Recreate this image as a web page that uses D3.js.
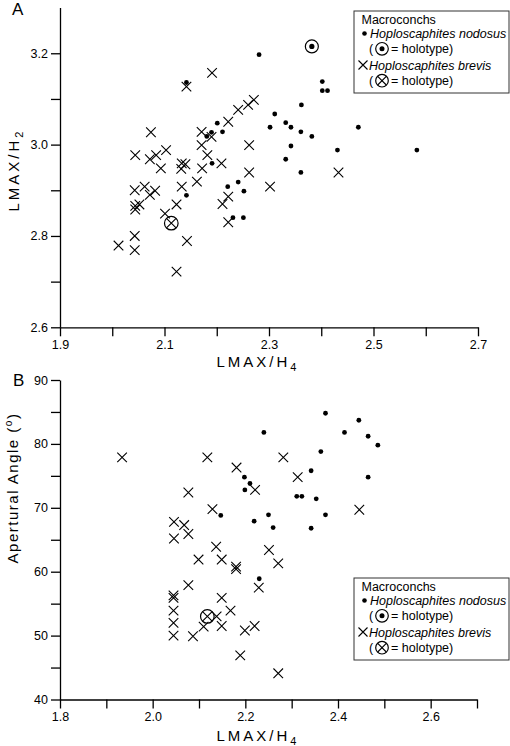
<!DOCTYPE html>
<html>
<head>
<meta charset="utf-8">
<script src="https://cdn.jsdelivr.net/npm/d3@7"></script>
<style>
  html, body { margin: 0; padding: 0; background: #fff; }
  svg { display: block; }
  text { font-family: "Liberation Sans", Arial, Helvetica, sans-serif; fill: #000; }
</style>
</head>
<body>
<svg id="chart" width="510" height="746"></svg>
<script>
// ---------- DATA ----------
// Panel A: LMAX/H4 (x) vs LMAX/H2 (y)
const aNodosus = [
  [2.142,3.136],[2.201,3.047],[2.190,3.027],[2.181,3.018],[2.211,3.028],
  [2.191,2.959],[2.142,2.889],[2.221,2.908],[2.241,2.918],[2.252,2.898],
  [2.231,2.840],[2.251,2.840],[2.281,3.197],[2.402,3.138],[2.402,3.118],
  [2.412,3.118],[2.362,3.087],[2.311,3.067],[2.302,3.038],[2.332,3.048],
  [2.342,3.038],[2.361,3.028],[2.382,3.018],[2.471,3.038],[2.342,2.997],
  [2.431,2.988],[2.583,2.988],[2.332,2.968],[2.361,2.939]
];
const aNodosusHolotype = [[2.382,3.215]];
const aBrevis = [
  [2.191,3.157],[2.142,3.127],[2.074,3.027],[2.171,3.028],[2.190,3.017],
  [2.171,2.999],[2.103,2.988],[2.044,2.977],[2.084,2.977],[2.072,2.968],
  [2.182,2.977],[2.093,2.948],[2.133,2.959],[2.140,2.957],[2.132,2.947],
  [2.209,2.959],[2.172,2.948],[2.162,2.919],[2.133,2.908],[2.043,2.900],
  [2.062,2.908],[2.072,2.890],[2.082,2.899],[2.044,2.866],[2.044,2.858],
  [2.052,2.869],[2.123,2.869],[2.101,2.849],[2.211,2.870],[2.222,2.886],
  [2.222,2.830],[2.043,2.800],[2.012,2.779],[2.043,2.769],[2.143,2.789],
  [2.123,2.722],[2.222,3.050],[2.241,3.076],[2.260,3.087],[2.271,3.098],
  [2.262,2.999],[2.262,2.939],[2.302,2.908],[2.433,2.939]
];
const aBrevisHolotype = [[2.113,2.828]];

// Panel B: LMAX/H4 (x) vs apertural angle (y)
const bNodosus = [
  [2.373,84.8],[2.445,83.7],[2.240,81.8],[2.414,81.8],[2.465,81.2],
  [2.486,79.8],[2.363,78.8],[2.342,75.8],[2.465,74.8],[2.198,74.8],
  [2.210,73.8],[2.199,72.8],[2.311,71.8],[2.322,71.8],[2.353,71.4],
  [2.373,68.9],[2.147,68.8],[2.250,68.9],[2.219,67.9],[2.260,66.9],
  [2.342,66.8],[2.230,58.9]
];
const bBrevis = [
  [1.934,77.9],[2.118,77.9],[2.282,77.9],[2.181,76.3],[2.221,72.8],
  [2.313,74.8],[2.129,69.8],[2.077,72.4],[2.046,67.8],[2.068,67.3],
  [2.046,65.2],[2.077,65.9],[2.137,63.9],[2.099,61.9],[2.149,61.9],
  [2.180,60.8],[2.180,60.4],[2.251,63.4],[2.271,61.3],[2.229,57.5],
  [2.077,57.9],[2.045,56.3],[2.045,55.9],[2.149,55.9],[2.045,53.9],
  [2.168,53.9],[2.138,53.0],[2.045,52.0],[2.149,51.5],[2.110,51.4],
  [2.045,50.0],[2.087,49.9],[2.199,50.8],[2.220,51.5],[2.189,46.9],
  [2.271,44.1],[2.446,69.7]
];
const bBrevisHolotype = [[2.118,53.0]];

// Axis ticks
const aXMajor = [1.9, 2.1, 2.3, 2.5, 2.7];
const aXMinor = [2.0, 2.2, 2.4, 2.6];
const aYMajor = [2.6, 2.8, 3.0, 3.2];
const aYMinor = [2.7, 2.9, 3.1];
const bXMajor = [1.8, 2.0, 2.2, 2.4, 2.6];
const bXMinor = [1.9, 2.1, 2.3, 2.5, 2.7];
const bYMajor = [40, 50, 60, 70, 80, 90];
const bYMinor = [45, 55, 65, 75, 85];

const legendTitle = "Macroconchs";
const legendNodosus = "Hoploscaphites nodosus";
const legendBrevis = "Hoploscaphites brevis";

// ---------- DRAWING ----------
const svg = d3.select("#chart");

function crossPath(s) { return `M${-s},${-s}L${s},${s}M${-s},${s}L${s},${-s}`; }

function drawPanel(cfg) {
  const g = svg.append("g");
  const x = d3.scaleLinear().domain(cfg.xDomain).range(cfg.xRange);
  const y = d3.scaleLinear().domain(cfg.yDomain).range(cfg.yRange);

  // axes
  const xAxisY = cfg.yRange[0];
  const gx = g.append("g").attr("transform", `translate(0,${xAxisY})`)
    .call(d3.axisBottom(x).tickValues(cfg.xMajor).tickFormat(d3.format(".1f"))
      .tickSize(9).tickSizeOuter(0).tickPadding(4));
  g.append("g").attr("transform", `translate(0,${xAxisY})`)
    .call(d3.axisBottom(x).tickValues(cfg.xMinor).tickFormat("").tickSize(9).tickSizeOuter(0))
    .select(".domain").remove();
  const gy = g.append("g").attr("transform", `translate(${cfg.xRange[0]},0)`)
    .call(d3.axisLeft(y).tickValues(cfg.yMajor).tickFormat(cfg.yFormat)
      .tickSize(9).tickSizeOuter(0).tickPadding(3));
  g.append("g").attr("transform", `translate(${cfg.xRange[0]},0)`)
    .call(d3.axisLeft(y).tickValues(cfg.yMinor).tickFormat("").tickSize(9).tickSizeOuter(0))
    .select(".domain").remove();
  g.selectAll(".domain, .tick line").attr("stroke", "#000").attr("stroke-width", 1.3);
  g.selectAll(".tick text").attr("font-size", 12.5)
    .attr("font-family", '"Liberation Sans", Arial, sans-serif').attr("fill", "#000");

  // nodosus dots
  g.append("g").selectAll("circle").data(cfg.nodosus).join("circle")
    .attr("cx", d => x(d[0])).attr("cy", d => y(d[1])).attr("r", 2.4).attr("fill", "#000");
  // brevis crosses
  g.append("g").selectAll("path").data(cfg.brevis).join("path")
    .attr("transform", d => `translate(${x(d[0])},${y(d[1])})`)
    .attr("d", crossPath(4.8)).attr("stroke", "#000").attr("stroke-width", 1.1).attr("fill", "none");
  // holotypes
  (cfg.nodosusHolo || []).forEach(d => {
    const hg = g.append("g").attr("transform", `translate(${x(d[0])},${y(d[1])})`);
    hg.append("circle").attr("r", 6.5).attr("fill", "none").attr("stroke", "#000").attr("stroke-width", 1.2);
    hg.append("circle").attr("r", 2.6).attr("fill", "#000");
  });
  (cfg.brevisHolo || []).forEach(d => {
    const hg = g.append("g").attr("transform", `translate(${x(d[0])},${y(d[1])})`);
    hg.append("circle").attr("r", 6.8).attr("fill", "none").attr("stroke", "#000").attr("stroke-width", 1.2);
    hg.append("path").attr("d", crossPath(4.8)).attr("stroke", "#000").attr("stroke-width", 1.1);
  });

  // panel letter
  g.append("text").attr("x", cfg.letterPos[0]).attr("y", cfg.letterPos[1])
    .attr("font-size", 17).text(cfg.letter);

  // x title
  const xt = g.append("text").attr("x", cfg.xTitlePos[0]).attr("y", cfg.xTitlePos[1])
    .attr("text-anchor", "middle").attr("font-size", 15).attr("letter-spacing", 3);
  xt.append("tspan").text("LMAX/H");
  xt.append("tspan").attr("font-size", 11).attr("dy", 4).text("4");

  // y title
  const yt = g.append("text")
    .attr("transform", `translate(${cfg.yTitlePos[0]},${cfg.yTitlePos[1]}) rotate(-90)`)
    .attr("text-anchor", "middle").attr("font-size", 15).attr("letter-spacing", cfg.yTitleSpacing);
  cfg.yTitle(yt);

  // legend
  const L = cfg.legend;
  const lg = g.append("g").attr("transform", `translate(${L[0]},${L[1]})`);
  lg.append("rect").attr("x", 0).attr("y", 0).attr("width", 155).attr("height", 82)
    .attr("fill", "#fff").attr("stroke", "#333").attr("stroke-width", 1);
  const fs = 12.5;
  lg.append("text").attr("x", 7.5).attr("y", 12.7).attr("font-size", fs).text(legendTitle);
  lg.append("circle").attr("cx", 10.5).attr("cy", 22.5).attr("r", 2.3).attr("fill", "#000");
  lg.append("text").attr("x", 16).attr("y", 26.8).attr("font-size", fs).attr("font-style", "italic").text(legendNodosus);
  lg.append("text").attr("x", 15).attr("y", 42.2).attr("font-size", fs).text("(");
  lg.append("circle").attr("cx", 28).attr("cy", 37.8).attr("r", 6.3).attr("fill", "none").attr("stroke", "#000").attr("stroke-width", 1.2);
  lg.append("circle").attr("cx", 28).attr("cy", 37.8).attr("r", 2.5).attr("fill", "#000");
  lg.append("text").attr("x", 37).attr("y", 42.2).attr("font-size", fs).text("= holotype)");
  lg.append("path").attr("transform", "translate(9,54)").attr("d", crossPath(4.5))
    .attr("stroke", "#000").attr("stroke-width", 1.1);
  lg.append("text").attr("x", 15).attr("y", 58.5).attr("font-size", fs).attr("font-style", "italic").text(legendBrevis);
  lg.append("text").attr("x", 15).attr("y", 74).attr("font-size", fs).text("(");
  lg.append("circle").attr("cx", 28).attr("cy", 69.7).attr("r", 6.3).attr("fill", "none").attr("stroke", "#000").attr("stroke-width", 1.2);
  lg.append("path").attr("transform", "translate(28,69.7)").attr("d", crossPath(4.3))
    .attr("stroke", "#000").attr("stroke-width", 1.1);
  lg.append("text").attr("x", 37).attr("y", 74).attr("font-size", fs).text("= holotype)");
}

drawPanel({
  xDomain: [1.9, 2.7], xRange: [60, 478],
  yDomain: [2.6, 3.3], yRange: [327.3, 7.6],
  xMajor: aXMajor, xMinor: aXMinor, yMajor: aYMajor, yMinor: aYMinor,
  yFormat: d3.format(".1f"),
  nodosus: aNodosus, brevis: aBrevis,
  nodosusHolo: aNodosusHolotype, brevisHolo: aBrevisHolotype,
  letter: "A", letterPos: [12, 15],
  xTitlePos: [258, 367],
  yTitlePos: [19, 170], yTitleSpacing: 3,
  yTitle: t => { t.append("tspan").text("LMAX/H"); t.append("tspan").attr("font-size", 11).attr("dy", 4).text("2"); },
  legend: [354, 11]
});

drawPanel({
  xDomain: [1.8, 2.7], xRange: [60, 477],
  yDomain: [40, 90], yRange: [699.5, 380],
  xMajor: bXMajor, xMinor: bXMinor, yMajor: bYMajor, yMinor: bYMinor,
  yFormat: d3.format("d"),
  nodosus: bNodosus, brevis: bBrevis,
  nodosusHolo: [], brevisHolo: bBrevisHolotype,
  letter: "B", letterPos: [13, 386],
  xTitlePos: [258, 741],
  yTitlePos: [18, 488], yTitleSpacing: 1.5,
  yTitle: t => {
    t.append("tspan").text("Apertural Angle (");
    t.append("tspan").attr("font-size", 10).attr("dy", -6).text("o");
    t.append("tspan").attr("dy", 6).text(")");
  },
  legend: [354, 578]
});
</script>
</body>
</html>
